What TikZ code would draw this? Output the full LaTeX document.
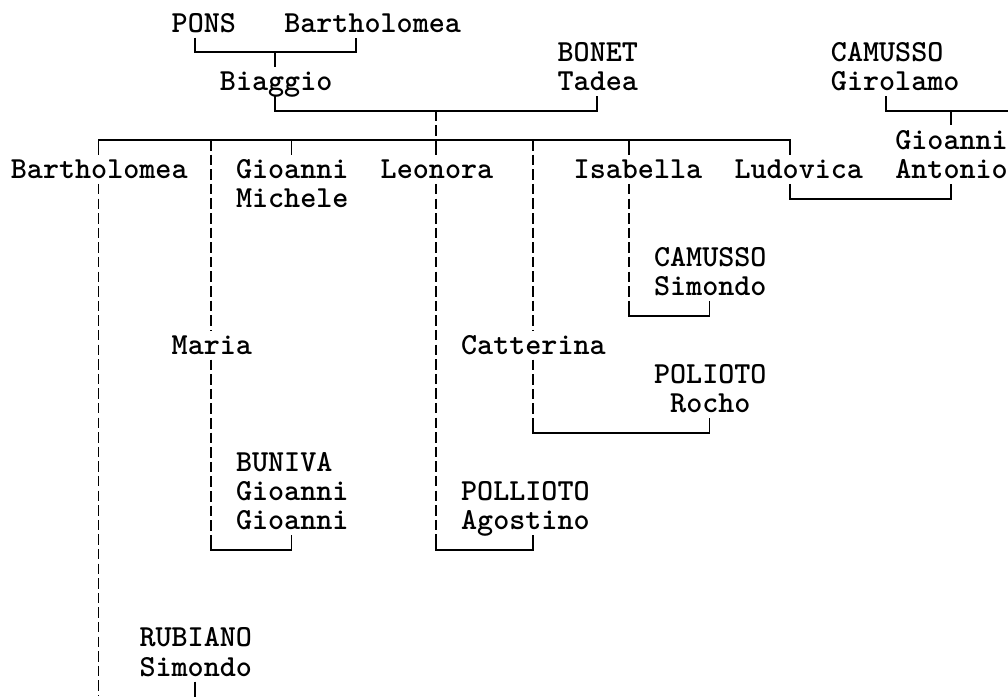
\documentclass[tikz,border=0pt]{standalone}
\begin{document}
\begin{tikzpicture}[x=16.08pt,y=-29.27pt,line width=1.8pt,
  nm/.style={anchor=base west,inner sep=0pt,font=\fontsize{30.6}{29.27}\selectfont\ttfamily\bfseries},
  dsh/.style={dash pattern=on 10.5pt off 4.1pt}]
\useasboundingbox (-0.622,-0.786) rectangle (62.065,22.993);
\newcommand\nm[4]{\node[nm] (#1) at (#2,#3+0.318) {#4};}
% names
\nm{pons}{10}{0}{PONS}
\nm{bartA}{17}{0}{Bartholomea}
\nm{bonet}{34}{1}{BONET}
\nm{camG}{51}{1}{CAMUSSO}
\nm{biaggio}{13}{2}{Biaggio}
\nm{tadea}{34}{2}{Tadea}
\nm{girolamo}{51}{2}{Girolamo}
\nm{gioA}{55}{4}{Gioanni}
\nm{bartB}{0}{5}{Bartholomea}
\nm{gioM}{14}{5}{Gioanni}
\nm{leonora}{23}{5}{Leonora}
\nm{isabella}{35}{5}{Isabella}
\nm{ludovica}{45}{5}{Ludovica}
\nm{antonio}{55}{5}{Antonio}
\nm{michele}{14}{6}{Michele}
\nm{camS}{40}{8}{CAMUSSO}
\nm{simS}{40}{9}{Simondo}
\nm{maria}{10}{11}{Maria}
\nm{catterina}{28}{11}{Catterina}
\nm{polioto}{40}{12}{POLIOTO}
\nm{rocho}{41}{13}{Rocho}
\nm{buniva}{14}{15}{BUNIVA}
\nm{gioB}{14}{16}{Gioanni}
\nm{gioC}{14}{17}{Gioanni}
\nm{polliot}{28}{16}{POLLIOTO}
\nm{agostino}{28}{17}{Agostino}
\nm{rubiano}{8}{21}{RUBIANO}
\nm{simR}{8}{22}{Simondo}
% connectors
\draw (11.5,0.5) -- (11.5,1) -- (21.5,1) -- (21.5,0.5);
\draw (16.5,1) -- (16.5,1.5);
\draw (16.5,2.5) -- (16.5,3) -- (36.5,3) -- (36.5,2.5);
\draw[dsh] (26.5,3) -- (26.5,4);
\draw (5.5,4.5) -- (5.5,4) -- (48.5,4) -- (48.5,4.5);
\draw (17.5,4) -- (17.5,4.5);
\draw (26.5,4) -- (26.5,4.5);
\draw (38.5,4) -- (38.5,4.5);
% Bartholomea
\draw[dsh] (5.5,5.5) -- (5.5,23);
% Maria
\draw[dsh] (12.5,4) -- (12.5,10.5);
\draw[dsh] (12.5,11.5) -- (12.5,17.5);
\draw (12.5,17.5) -- (12.5,18) -- (17.5,18) -- (17.5,17.5);
% Leonora
\draw[dsh] (26.5,5.5) -- (26.5,17.5);
\draw (26.5,17.5) -- (26.5,18) -- (32.5,18) -- (32.5,17.5);
% Catterina
\draw[dsh] (32.5,4) -- (32.5,10.5);
\draw[dsh] (32.5,11.5) -- (32.5,13.5);
\draw (32.5,13.5) -- (32.5,14) -- (43.5,14) -- (43.5,13.5);
% Isabella
\draw[dsh] (38.5,5.5) -- (38.5,9.5);
\draw (38.5,9.5) -- (38.5,10) -- (43.5,10) -- (43.5,9.5);
% Ludovica
\draw (48.5,5.5) -- (48.5,6) -- (58.5,6) -- (58.5,5.5);
% Girolamo
\draw (54.5,2.5) -- (54.5,3) -- (62.1,3);
\draw (58.5,3) -- (58.5,3.5);
% Rubiano
\draw (11.5,22.5) -- (11.5,23.1);
\end{tikzpicture}
\end{document}
